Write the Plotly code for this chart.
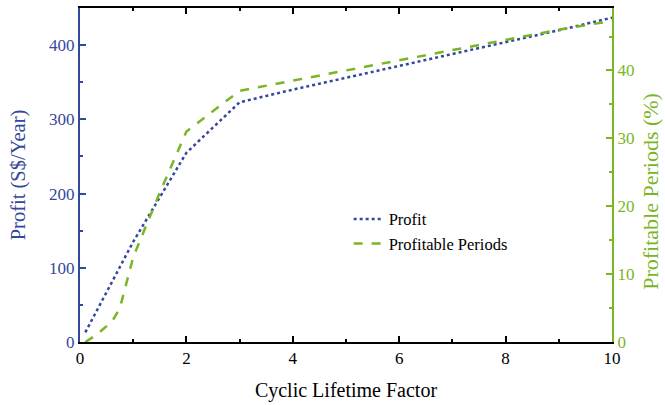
import plotly.graph_objects as go

x_profit = [0.1, 0.5, 1, 2, 3, 4, 5, 6, 7, 8, 9, 10]
profit = [13, 68, 135, 255, 323, 340, 356, 372, 388, 404, 420, 437]

x_period = [0.1, 0.3, 0.6, 0.75, 1, 1.5, 2, 3, 4, 5, 6, 7, 8, 9, 10]
periods = [0, 1, 3, 5, 12.5, 22, 31, 37, 38.5, 40, 41.5, 43, 44.5, 46, 47.3]

BLUE = "#34489a"
GREEN = "#7ab526"
FONT = "Liberation Serif"

fig = go.Figure()
fig.add_trace(go.Scatter(x=x_profit, y=profit, mode="lines", name="Profit",
                         line=dict(color=BLUE, width=2.5, dash="dot")))
fig.add_trace(go.Scatter(x=x_period, y=periods, mode="lines", name="Profitable Periods",
                         line=dict(color=GREEN, width=2.5, dash="dash"), yaxis="y2"))

fig.update_layout(
    width=665, height=405,
    margin=dict(l=80, r=53, t=6, b=63),
    plot_bgcolor="white", paper_bgcolor="white",
    font=dict(family=FONT, size=17, color="black"),
    showlegend=True,
    legend=dict(x=0.505, y=0.42, xanchor="left", yanchor="top",
                bgcolor="rgba(0,0,0,0)", font=dict(size=16.5, family=FONT, color="black"),
                itemwidth=30, tracegroupgap=2),
    xaxis=dict(range=[0, 10], tickvals=[0, 2, 4, 6, 8, 10], showgrid=False, zeroline=False,
               showline=True, linecolor="black", linewidth=2, mirror="ticks",
               ticks="inside", ticklen=6, tickcolor="black", tickwidth=1.5,
               minor=dict(ticks="inside", ticklen=3, dtick=1, tickcolor="black"),
               title=dict(text="Cyclic Lifetime Factor", font=dict(size=20, family=FONT), standoff=16),
               tickfont=dict(size=17, color="black")),
    yaxis=dict(range=[0, 450], tickvals=[0, 100, 200, 300, 400], showgrid=False, zeroline=False,
               showline=True, linecolor=BLUE, linewidth=2,
               ticks="inside", ticklen=6, tickcolor=BLUE, tickwidth=1.5,
               minor=dict(ticks="inside", ticklen=3, dtick=50, tickcolor=BLUE),
               title=dict(text="Profit (S$/Year)", font=dict(size=20.5, color=BLUE, family=FONT), standoff=18),
               tickfont=dict(size=17, color=BLUE)),
    yaxis2=dict(range=[0, 49.2], tickvals=[0, 10, 20, 30, 40], showgrid=False, zeroline=False,
                overlaying="y", side="right",
                showline=True, linecolor=GREEN, linewidth=2,
                ticks="inside", ticklen=6, tickcolor=GREEN, tickwidth=1.5,
                minor=dict(ticks="inside", ticklen=3, dtick=5, tickcolor=GREEN),
                tickfont=dict(size=17, color=GREEN)),
    annotations=[dict(text="Profitable Periods (%)", xref="paper", yref="paper",
                      x=1.071, y=0.452, xanchor="center", yanchor="middle",
                      textangle=-90, showarrow=False,
                      font=dict(size=22, color=GREEN, family=FONT))],
)

fig.write_html("out.html")
